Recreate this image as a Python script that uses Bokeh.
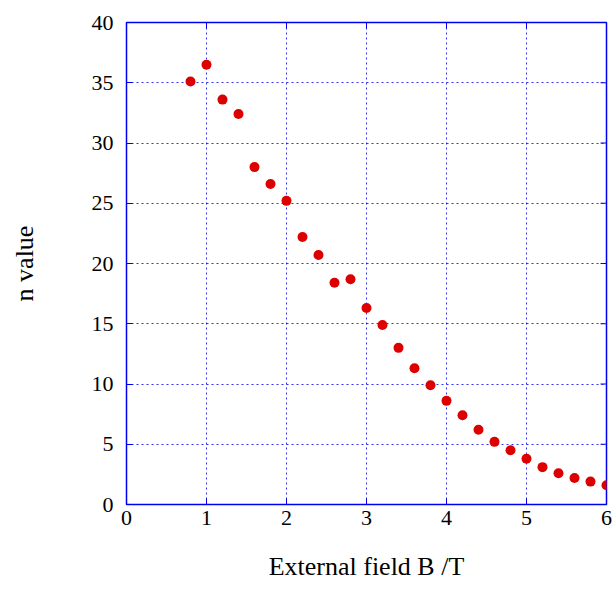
from bokeh.plotting import figure
from bokeh.models import FixedTicker, Range1d
from bokeh.embed import file_html
from bokeh.resources import INLINE

B_field = [0.8, 1.0, 1.2, 1.4, 1.6, 1.8, 2.0, 2.2, 2.4, 2.6, 2.8, 3.0, 3.2, 3.4,
           3.6, 3.8, 4.0, 4.2, 4.4, 4.6, 4.8, 5.0, 5.2, 5.4, 5.6, 5.8, 6.0]
n_value = [35.1, 36.5, 33.6, 32.4, 28.0, 26.6, 25.2, 22.2, 20.7, 18.4, 18.7, 16.3,
           14.9, 13.0, 11.3, 9.9, 8.6, 7.4, 6.2, 5.2, 4.5, 3.8, 3.1, 2.6, 2.2, 1.9, 1.6]
x_ticks = [0, 1, 2, 3, 4, 5, 6]
y_ticks = [0, 5, 10, 15, 20, 25, 30, 35, 40]

FONT = "'Liberation Serif', 'Times New Roman', serif"
BLUE = "#0000ee"

p = figure(frame_width=480, frame_height=482, width=616, height=592,
           x_range=Range1d(0, 6), y_range=Range1d(0, 40),
           output_backend="svg", toolbar_location=None,
           min_border_left=126, min_border_right=10, min_border_top=22, min_border_bottom=88)

p.outline_line_color = BLUE
p.outline_line_width = 1.5

p.scatter(B_field, n_value, size=10, color="#dd0000", line_color=None)

p.xaxis.ticker = FixedTicker(ticks=x_ticks)
p.yaxis.ticker = FixedTicker(ticks=y_ticks)
p.axis.axis_line_color = BLUE
p.axis.major_tick_line_color = BLUE
p.axis.major_tick_in = 6
p.axis.major_tick_out = 0
p.axis.minor_tick_line_color = None
p.axis.major_label_text_font = FONT
p.axis.major_label_text_font_size = "22px"
p.axis.major_label_text_color = "black"

p.xaxis.major_label_standoff = 6
p.xaxis.axis_label = "External field B /T"
p.xaxis.axis_label_text_font = FONT
p.xaxis.axis_label_text_font_size = "26px"
p.xaxis.axis_label_text_font_style = "normal"
p.xaxis.axis_label_text_color = "black"
p.xaxis.axis_label_standoff = 24
p.yaxis.major_label_standoff = 13
p.yaxis.axis_label = "n value"
p.yaxis.axis_label_text_font = FONT
p.yaxis.axis_label_text_font_size = "26px"
p.yaxis.axis_label_text_font_style = "normal"
p.yaxis.axis_label_text_color = "black"
p.yaxis.axis_label_standoff = 50

# mirrored inward ticks on top and right edges
p.segment(x0=x_ticks[1:-1], y0=[40] * 5, x1=x_ticks[1:-1], y1=[39.5] * 5,
          line_color=BLUE, line_width=1)
p.segment(x0=[6] * 7, y0=y_ticks[1:-1], x1=[5.925] * 7, y1=y_ticks[1:-1],
          line_color=BLUE, line_width=1)

for g in (p.xgrid[0], p.ygrid[0]):
    g.grid_line_color = BLUE
    g.grid_line_alpha = 0.8
    g.grid_line_dash = "2 3"
    g.grid_line_width = 1

open("out.html", "w").write(file_html(p, INLINE))
